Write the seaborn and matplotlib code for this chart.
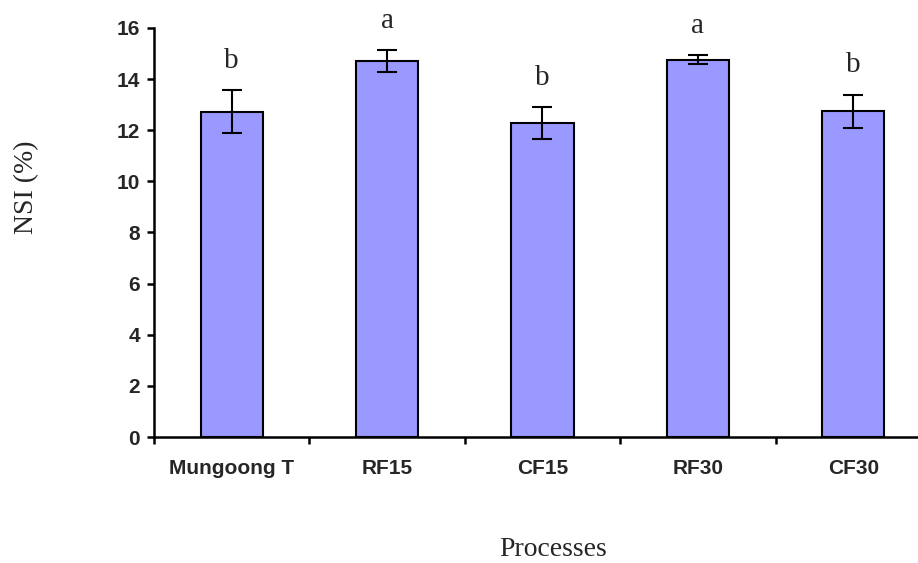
import matplotlib
matplotlib.use("Agg")
import matplotlib.pyplot as plt
import seaborn as sns
import pandas as pd
import numpy as np

# NSI by process, with standard deviations and significance letters
processes = ["Mungoong T", "RF15", "CF15", "RF30", "CF30"]
nsi_mean = [12.73, 14.69, 12.27, 14.76, 12.74]
nsi_err = [0.83, 0.43, 0.63, 0.17, 0.64]
letters = ["b", "a", "b", "a", "b"]

sns.set_theme(style="white")
plt.rcParams["font.family"] = ["Liberation Sans", "DejaVu Sans"]
serif = ["Liberation Serif", "DejaVu Serif"]

df = pd.DataFrame({"Process": processes, "NSI": nsi_mean})

fig = plt.figure(figsize=(9.18, 5.63), dpi=100)
ax = fig.add_axes([0.1677, 0.2238, 0.8465, 0.7265])

sns.barplot(data=df, x="Process", y="NSI", order=processes, color="#9999FF",
            saturation=1, width=0.4, edgecolor="black", linewidth=1.5,
            errorbar=None, ax=ax)
xpos = np.arange(len(processes))
ax.errorbar(xpos, nsi_mean, yerr=nsi_err, fmt="none", ecolor="black",
            elinewidth=1.5, capsize=7, capthick=1.5)

for x, m, e, lab in zip(xpos, nsi_mean, nsi_err, letters):
    ax.text(x, m + e + 0.65, lab, ha="center", va="bottom",
            fontsize=21, family=serif)

ax.set_xlim(-0.5, len(processes) - 0.5)
ax.set_ylim(0, 16)
ax.set_yticks(range(0, 17, 2))
ax.set_xticks(np.arange(-0.5, len(processes), 1.0), minor=True)

for s in ["top", "right"]:
    ax.spines[s].set_visible(False)
for s in ["left", "bottom"]:
    ax.spines[s].set_linewidth(1.8)
    ax.spines[s].set_color("black")

ax.tick_params(axis="x", which="major", length=0, pad=16, labelsize=15)
ax.tick_params(axis="x", which="minor", direction="out", length=5, width=1.8,
               color="black", bottom=True)
ax.tick_params(axis="y", which="major", direction="out", length=5, width=1.8,
               color="black", left=True, pad=5, labelsize=15)
for t in ax.get_xticklabels() + ax.get_yticklabels():
    t.set_fontweight("bold")

ax.set_xlabel("")
ax.set_ylabel("")
fig.text(0.029, 0.668, "NSI (%)", rotation=90, ha="center", va="center",
         fontsize=20, family=serif)
fig.text(0.602, 0.013, "Processes", ha="center", va="baseline",
         fontsize=20, family=serif)

fig.savefig("out.png", dpi=100)
